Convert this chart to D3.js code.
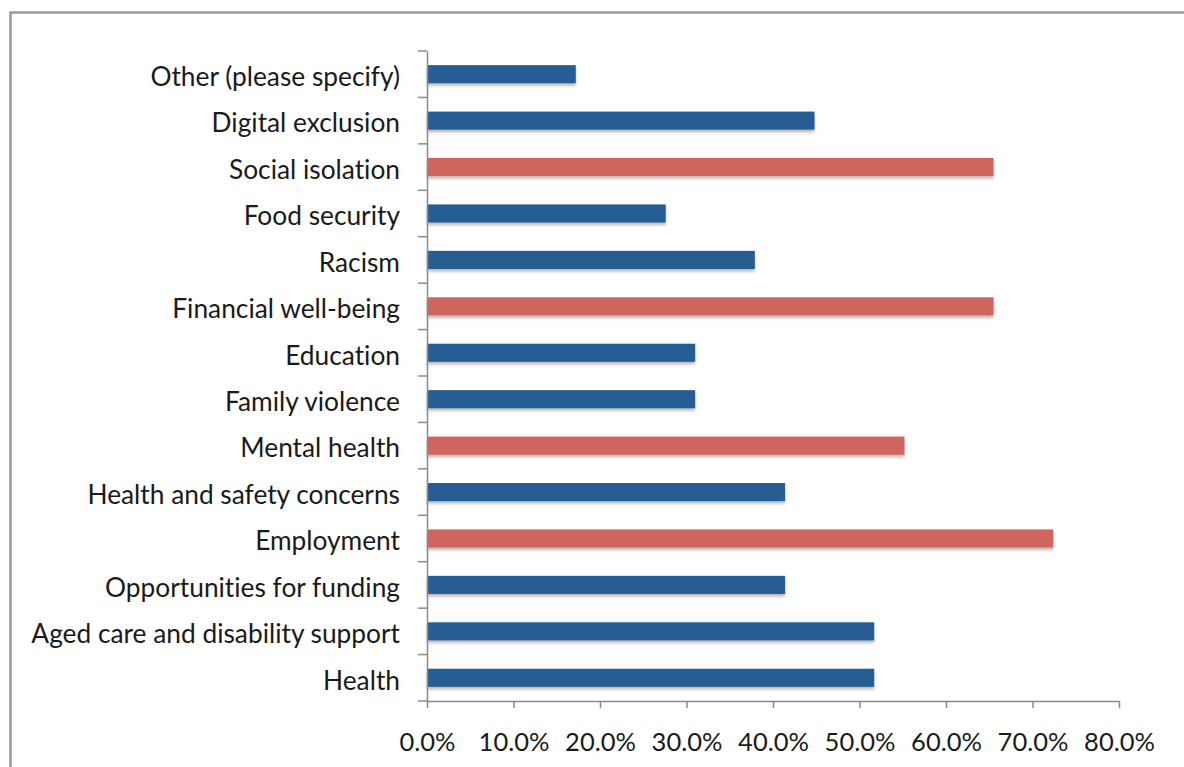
<!DOCTYPE html>
<html>
<head>
<meta charset="utf-8">
<script src="https://cdn.jsdelivr.net/npm/d3@7"></script>
<style>
  html, body { margin: 0; padding: 0; background: #fff; }
  svg { display: block; }
  text { font-variant-ligatures: none; font-feature-settings: "liga" 0; }
</style>
</head>
<body>
<svg id="chart" width="1184" height="767"></svg>
<script>
const categories = [
  "Other (please specify)",
  "Digital exclusion",
  "Social isolation",
  "Food security",
  "Racism",
  "Financial well-being",
  "Education",
  "Family violence",
  "Mental health",
  "Health and safety concerns",
  "Employment",
  "Opportunities for funding",
  "Aged care and disability support",
  "Health"
];
const values = [17.2, 44.8, 65.5, 27.6, 37.9, 65.5, 31.0, 31.0, 55.2, 41.4, 72.4, 41.4, 51.7, 51.7];
const highlighted = [false, false, true, false, false, true, false, false, true, false, true, false, false, false];
const xTicks = [0, 10, 20, 30, 40, 50, 60, 70, 80];

(function () {
const svg = d3.select("#chart");
const defs = svg.append("defs");
const f = defs.append("filter").attr("id", "shadow")
  .attr("x", "-5%").attr("y", "-30%").attr("width", "110%").attr("height", "180%");
f.append("feDropShadow").attr("dx", 0).attr("dy", 2.5).attr("stdDeviation", 1.8)
  .attr("flood-color", "#000").attr("flood-opacity", 0.28);

// outer frame
svg.append("rect").attr("x", 10.5).attr("y", 12.5).attr("width", 1200).attr("height", 800)
  .attr("fill", "#fff").attr("stroke", "#9a9a9a").attr("stroke-width", 2.5);

const pLeft = 427, pRight = 1119, pTop = 51, pBottom = 701;
const x = d3.scaleLinear().domain([0, 80]).range([pLeft, pRight]);
const y = d3.scaleBand().domain(categories).range([pTop, pBottom]).paddingInner(0.61).paddingOuter(0.305);
const yTicks = d3.scaleBand().domain(categories).range([pTop, pBottom]);

const font = "Lato, 'Open Sans', sans-serif";

// bars
svg.append("g").selectAll("rect").data(categories).join("rect")
  .attr("x", x(0))
  .attr("y", d => y(d))
  .attr("width", (d, i) => x(values[i]) - x(0))
  .attr("height", y.bandwidth())
  .attr("fill", (d, i) => highlighted[i] ? "#cf655b" : "#255d93")
  .attr("filter", "url(#shadow)");

// y axis
const yAxis = d3.axisLeft(yTicks).tickSize(0).tickPadding(27);
const gy = svg.append("g").attr("transform", `translate(${pLeft},0)`).call(yAxis);
gy.select(".domain").attr("stroke", "#8a8a8a").attr("stroke-width", 1.5);
gy.selectAll("text").attr("font-family", font).attr("font-size", 26.3).attr("fill", "#1a1a1a")
  .attr("dy", "0.45em");
// band boundary ticks
const boundaries = categories.map(c => yTicks(c)).concat([pBottom]);
svg.append("g").selectAll("line").data(boundaries).join("line")
  .attr("x1", pLeft - 9).attr("x2", pLeft)
  .attr("y1", d => d).attr("y2", d => d)
  .attr("stroke", "#8a8a8a").attr("stroke-width", 1.5);

// x axis
const xAxis = d3.axisBottom(x).tickValues(xTicks).tickSize(7).tickSizeOuter(0).tickPadding(25)
  .tickFormat(d => d3.format(".1f")(d) + "%");
const gx = svg.append("g").attr("transform", `translate(0,${pBottom})`).call(xAxis);
gx.select(".domain").attr("stroke", "#8a8a8a").attr("stroke-width", 1.5);
gx.selectAll(".tick line").attr("stroke", "#8a8a8a").attr("stroke-width", 1.5);
gx.selectAll("text").attr("font-family", font).attr("font-size", 25.5).attr("fill", "#1a1a1a");
})();
</script>
</body>
</html>
